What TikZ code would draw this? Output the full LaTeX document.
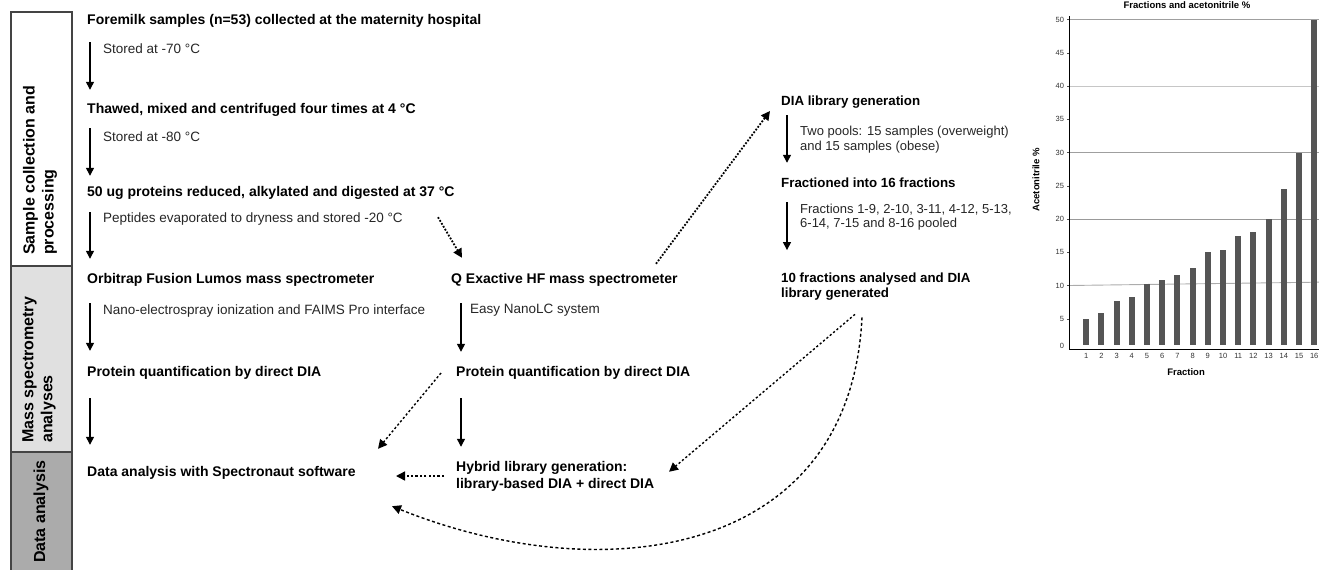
\documentclass[tikz,border=0pt]{standalone}
\usepackage{fontspec}
\setmainfont{Liberation Sans}
\usetikzlibrary{arrows.meta}
\definecolor{phasemid}{HTML}{E0E0E0}
\definecolor{phasedark}{HTML}{ABABAB}
\definecolor{phaseedge}{HTML}{444444}
\definecolor{barfill}{HTML}{555555}

\tikzset{
  stagebox/.style={font=\bfseries\fontsize{14}{17}\selectfont, anchor=west, inner sep=0pt, text height=10pt, text depth=3pt},
  stagesmall/.style={stagebox, font=\bfseries\fontsize{13.3}{15}\selectfont},
  notebox/.style={font=\fontsize{13.5}{15}\selectfont, anchor=west, inner sep=0pt, text height=10pt, text depth=3pt, text=black!85},
  notesmall/.style={notebox, font=\fontsize{13}{14.5}\selectfont},
  twoline/.style={align=left, text height=, text depth=},
  phaselabel/.style={font=\bfseries\fontsize{16}{19}\selectfont, rotate=90, anchor=west, inner sep=0pt, align=left},
  flow/.style={line width=1.3pt, -{Triangle[length=8pt,width=8pt]}},
  dotflow/.style={line width=1.8pt, dash pattern=on 1.8pt off 1.6pt, -{Triangle[length=9pt,width=9pt]}},
  dashflow/.style={line width=1.4pt, dash pattern=on 2.2pt off 2.2pt, -{Triangle[length=9pt,width=9pt]}},
  ticklbl/.style={font=\fontsize{7.5}{8}\selectfont, inner sep=0pt, text=black!80},
  axislbl/.style={font=\bfseries\fontsize{9.5}{11}\selectfont, inner sep=0pt},
}

\begin{document}
\begin{tikzpicture}[x=1pt, y=-1pt]
    \useasboundingbox (0,0) rectangle (1325,570);

    % Phase column
    \fill[white] (11,12) rectangle (72,266);
    \fill[phasemid] (11,266) rectangle (72,452);
    \fill[phasedark] (11,452) rectangle (72,572);
    \draw[phaseedge, line width=1.3pt] (11,572) -- (11,12) -- (72,12) -- (72,572);
    \draw[phaseedge, line width=1.3pt] (11,266) -- (72,266) (11,452) -- (72,452);
    \node[phaselabel] (phSample) at (40,255) {Sample collection and\\processing};
    \node[phaselabel] (phMass) at (39,443) {Mass spectrometry\\analyses};
    \node[phaselabel] (phData) at (41,563) {Data analysis};

    % Orbitrap branch
    \node[stagebox] (foremilk) at (87,21) {Foremilk samples (n=53) collected at the maternity hospital};
    \node[notebox] (store70) at (103,50) {Stored at -70 °C};
    \node[stagebox] (thawed) at (87,110) {Thawed, mixed and centrifuged four times at 4 °C};
    \node[notebox] (store80) at (103,138) {Stored at -80 °C};
    \node[stagebox] (digest) at (87,193) {50 ug proteins reduced, alkylated and digested at 37 °C};
    \node[notebox] (store20) at (103,219) {Peptides evaporated to dryness and stored -20 °C};
    \node[stagebox] (orbitrap) at (87,280) {Orbitrap Fusion Lumos mass spectrometer};
    \node[notebox] (faims) at (103,311) {Nano-electrospray ionization and FAIMS Pro interface};
    \node[stagebox] (quantA) at (87,373) {Protein quantification by direct DIA};
    \node[stagebox] (spectro) at (87,473) {Data analysis with Spectronaut software};

    % Q Exactive branch
    \node[stagebox] (qexactive) at (451,280) {Q Exactive HF mass spectrometer};
    \node[notebox] (nanolc) at (470,310) {Easy NanoLC system};
    \node[stagebox] (quantB) at (456,373) {Protein quantification by direct DIA};
    \node[stagebox, twoline] (hybrid) at (456,476) {Hybrid library generation:\\library-based DIA + direct DIA};

    % Library branch
    \node[stagesmall] (dialib) at (781,102) {DIA library generation};
    \node[notesmall, twoline] (pools) at (800,139.5) {Two pools: 15 samples (overweight)\\and 15 samples (obese)};
    \node[stagesmall] (fractioned) at (781,184) {Fractioned into 16 fractions};
    \node[notesmall, twoline] (pooled) at (800,217) {Fractions 1-9, 2-10, 3-11, 4-12, 5-13,\\6-14, 7-15 and 8-16 pooled};
    \node[stagesmall, twoline] (tenfrac) at (781,287) {10 fractions analysed and DIA\\library generated};

    \coordinate (colL) at (90,0);
    \coordinate (colM) at (461,0);
    \coordinate (colR) at (787,0);

    % Solid steps
    \draw[flow, shorten <=14.5pt, shorten >=13.5pt] (foremilk.south -| colL) -- (thawed.north -| colL);
    \draw[flow, shorten <=11.5pt, shorten >=10.5pt] (thawed.south -| colL) -- (digest.north -| colL);
    \draw[flow, shorten <=12.5pt, shorten >=14.5pt] (digest.south -| colL) -- (orbitrap.north -| colL);
    \draw[flow, shorten <=16.5pt, shorten >=15.5pt] (orbitrap.south -| colL) -- (quantA.north -| colL);
    \draw[flow, shorten <=18.5pt, shorten >=21.5pt] (quantA.south -| colL) -- (spectro.north -| colL);
    \draw[flow, shorten <=16.5pt, shorten >=14.5pt] (qexactive.south -| colM) -- (quantB.north -| colM);
    \draw[flow, shorten <=18.5pt, shorten >=14pt] (quantB.south -| colM) -- (hybrid.north -| colM);
    \draw[flow, shorten <=6.5pt, shorten >=14.5pt] (dialib.south -| colR) -- (fractioned.north -| colR);
    \draw[flow, shorten <=11.5pt, shorten >=23pt] (fractioned.south -| colR) -- (tenfrac.north -| colR);

    % Dotted and dashed links
    \draw[dotflow] ([xshift=351pt,yshift=-17.5pt]digest.south west) -- ([xshift=11pt,yshift=15.5pt]qexactive.north west);
    \draw[dotflow] ([xshift=205pt,yshift=9.5pt]qexactive.north west) -- ([xshift=-11pt,yshift=-9pt]dialib.west);
    \draw[dashflow] ([xshift=-15pt]quantB.west) -- ([xshift=291pt,yshift=17.5pt]spectro.north west);
    \draw[dashflow] ([xshift=-12pt]hybrid.west) -- ([xshift=309pt,yshift=-3pt]spectro.west);
    \draw[dashflow] ([xshift=74pt,yshift=-13.4pt]tenfrac.south west) -- ([xshift=213pt,yshift=-11pt]hybrid.north west);
    \draw[dashflow, dash pattern=on 3pt off 2.5pt] ([xshift=81pt,yshift=-16.4pt]tenfrac.south west)
        .. controls (850,560) and (600,590) .. ([xshift=305pt,yshift=-26.5pt]spectro.south west);

    % Fractions chart
    \begin{scope}[shift={(1071,352)}, x=15.2pt, y=6.65pt]
        \draw[gray!45, line width=0.9pt] (-0.13,40) -- (16.3,40);
        \draw[gray!75, line width=0.9pt] (-0.13,50) -- (16.3,50);
        \draw[gray!75, line width=0.9pt] (-0.13,30) -- (16.3,30);
        \draw[gray!80, line width=0.9pt] (-0.13,20) -- (16.3,20);
        \draw[gray!65, line width=0.9pt] (-0.13,10) -- (16.3,10.5);
        \foreach \v [count=\i] in {5,5.8,7.7,8.2,10.2,10.9,11.6,12.6,15,15.3,17.5,18.1,20,24.5,30,50}
            \fill[barfill] (\i-0.2,1) rectangle (\i+0.2,\v);
        \draw[black, line width=1pt] (-0.13,50.5) -- (-0.13,0.45) -- (16.3,0.45);
        \foreach \t in {5,10,...,50} {
            \draw[black!70, line width=0.5pt] (-0.13,\t) -- (-0.28,\t);
            \node[ticklbl, anchor=east] (yt\t) at (-0.45,\t) {\t};
        }
        \node[ticklbl, anchor=east] (yt0) at (-0.45,0.9) {0};
        \foreach \i in {1,...,16}
            \node[ticklbl] (xt\i) at (\i,-0.65) {\i};
        \node[axislbl] (xlabel) at (7.57,-3) {Fraction};
        \node[axislbl, rotate=90] (ylabel) at (-2.3,25.9) {Acetonitrile \%};
        \node[axislbl] (ctitle) at (7.63,52.2) {Fractions and acetonitrile \%};
    \end{scope}
\end{tikzpicture}
\end{document}
